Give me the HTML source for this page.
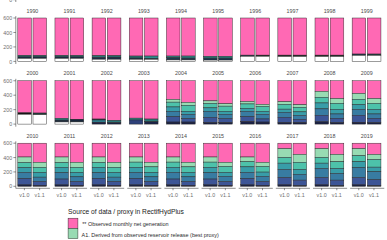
<!DOCTYPE html>
<html><head><meta charset="utf-8"><style>
html,body{margin:0;padding:0;background:#fff;width:387px;height:240px;overflow:hidden}
svg{display:block}
.bl{filter:url(#bf)}
.ax{stroke:#333;stroke-width:0.55}
.s{stroke:#262626;stroke-width:0.45}
text{font-family:'Liberation Sans',sans-serif}
.yl{font-size:5.33px;fill:#6e6e6e;text-anchor:end}
.xl{font-size:5.33px;fill:#6e6e6e;text-anchor:middle}
.st{font-size:5.33px;fill:#4a4a4a;text-anchor:middle}
.lt{font-size:6.67px;fill:#1a1a1a}
.lx{font-size:5.46px;fill:#2a2a2a}
</style></head><body>
<svg width="387" height="240" viewBox="0 0 387 240">
<defs><filter id="bf" x="-5%" y="-5%" width="110%" height="110%"><feGaussianBlur stdDeviation="0.3"/></filter></defs>
<rect width="387" height="240" fill="#fff"/>
<g class="bl"><line x1="15.8" y1="16.1" x2="15.8" y2="64" class="ax"/>
<line x1="13.4" y1="61.4" x2="15.8" y2="61.4" class="ax"/>
<line x1="13.4" y1="46.93" x2="15.8" y2="46.93" class="ax"/>
<line x1="13.4" y1="32.47" x2="15.8" y2="32.47" class="ax"/>
<line x1="13.4" y1="18" x2="15.8" y2="18" class="ax"/>
<rect x="17.8" y="18" width="13.6" height="37.45" fill="#FF69B4" class="s"/>
<rect x="17.8" y="55.45" width="13.6" height="1.5" fill="#2A7676" class="s"/>
<rect x="17.8" y="56.95" width="13.6" height="1.5" fill="#1B2D44" class="s"/>
<rect x="17.8" y="58.45" width="13.6" height="2.95" fill="#FFFFFF" class="s"/>
<rect x="33" y="18" width="13.6" height="37.45" fill="#FF69B4" class="s"/>
<rect x="33" y="55.45" width="13.6" height="1.5" fill="#2A7676" class="s"/>
<rect x="33" y="56.95" width="13.6" height="1.5" fill="#1B2D44" class="s"/>
<rect x="33" y="58.45" width="13.6" height="2.95" fill="#FFFFFF" class="s"/>
<rect x="54.95" y="18" width="13.6" height="37.45" fill="#FF69B4" class="s"/>
<rect x="54.95" y="55.45" width="13.6" height="1.5" fill="#2A7676" class="s"/>
<rect x="54.95" y="56.95" width="13.6" height="1.5" fill="#1B2D44" class="s"/>
<rect x="54.95" y="58.45" width="13.6" height="2.95" fill="#FFFFFF" class="s"/>
<rect x="70.15" y="18" width="13.6" height="37.45" fill="#FF69B4" class="s"/>
<rect x="70.15" y="55.45" width="13.6" height="1.5" fill="#2A7676" class="s"/>
<rect x="70.15" y="56.95" width="13.6" height="1.5" fill="#1B2D44" class="s"/>
<rect x="70.15" y="58.45" width="13.6" height="2.95" fill="#FFFFFF" class="s"/>
<rect x="92.1" y="18" width="13.6" height="37.65" fill="#FF69B4" class="s"/>
<rect x="92.1" y="55.65" width="13.6" height="1.8" fill="#2A7676" class="s"/>
<rect x="92.1" y="57.45" width="13.6" height="1.8" fill="#1B2D44" class="s"/>
<rect x="92.1" y="59.25" width="13.6" height="2.15" fill="#FFFFFF" class="s"/>
<rect x="107.3" y="18" width="13.6" height="37.65" fill="#FF69B4" class="s"/>
<rect x="107.3" y="55.65" width="13.6" height="1.5" fill="#2A7676" class="s"/>
<rect x="107.3" y="57.15" width="13.6" height="2.1" fill="#1B2D44" class="s"/>
<rect x="107.3" y="59.25" width="13.6" height="2.15" fill="#FFFFFF" class="s"/>
<rect x="129.25" y="18" width="13.6" height="38.05" fill="#FF69B4" class="s"/>
<rect x="129.25" y="56.05" width="13.6" height="2" fill="#2A7676" class="s"/>
<rect x="129.25" y="58.05" width="13.6" height="1.3" fill="#1B2D44" class="s"/>
<rect x="129.25" y="59.35" width="13.6" height="2.05" fill="#FFFFFF" class="s"/>
<rect x="144.45" y="18" width="13.6" height="38.05" fill="#FF69B4" class="s"/>
<rect x="144.45" y="56.05" width="13.6" height="2.3" fill="#2E8C8C" class="s"/>
<rect x="144.45" y="58.35" width="13.6" height="1" fill="#1B2D44" class="s"/>
<rect x="144.45" y="59.35" width="13.6" height="2.05" fill="#FFFFFF" class="s"/>
<rect x="166.4" y="18" width="13.6" height="38.05" fill="#FF69B4" class="s"/>
<rect x="166.4" y="56.05" width="13.6" height="1.6" fill="#2E8C8C" class="s"/>
<rect x="166.4" y="57.65" width="13.6" height="2.3" fill="#1F3A50" class="s"/>
<rect x="166.4" y="59.95" width="13.6" height="1.45" fill="#FFFFFF" class="s"/>
<rect x="181.6" y="18" width="13.6" height="38.05" fill="#FF69B4" class="s"/>
<rect x="181.6" y="56.05" width="13.6" height="2" fill="#2E8C8C" class="s"/>
<rect x="181.6" y="58.05" width="13.6" height="1.9" fill="#1F3A50" class="s"/>
<rect x="181.6" y="59.95" width="13.6" height="1.45" fill="#FFFFFF" class="s"/>
<rect x="203.55" y="18" width="13.6" height="38.35" fill="#FF69B4" class="s"/>
<rect x="203.55" y="56.35" width="13.6" height="1.7" fill="#2E8C8C" class="s"/>
<rect x="203.55" y="58.05" width="13.6" height="2.05" fill="#1F3A50" class="s"/>
<rect x="203.55" y="60.1" width="13.6" height="1.3" fill="#FFFFFF" class="s"/>
<rect x="218.75" y="18" width="13.6" height="38.35" fill="#FF69B4" class="s"/>
<rect x="218.75" y="56.35" width="13.6" height="1.7" fill="#2E8C8C" class="s"/>
<rect x="218.75" y="58.05" width="13.6" height="2.05" fill="#1F3A50" class="s"/>
<rect x="218.75" y="60.1" width="13.6" height="1.3" fill="#FFFFFF" class="s"/>
<rect x="240.7" y="18" width="13.6" height="37.15" fill="#FF69B4" class="s"/>
<rect x="240.7" y="55.15" width="13.6" height="1.2" fill="#1B2D44" class="s"/>
<rect x="240.7" y="56.35" width="13.6" height="5.05" fill="#FFFFFF" class="s"/>
<rect x="255.9" y="18" width="13.6" height="37.15" fill="#FF69B4" class="s"/>
<rect x="255.9" y="55.15" width="13.6" height="1.2" fill="#151515" class="s"/>
<rect x="255.9" y="56.35" width="13.6" height="5.05" fill="#FFFFFF" class="s"/>
<rect x="277.85" y="18" width="13.6" height="37.15" fill="#FF69B4" class="s"/>
<rect x="277.85" y="55.15" width="13.6" height="1.4" fill="#151515" class="s"/>
<rect x="277.85" y="56.55" width="13.6" height="4.85" fill="#FFFFFF" class="s"/>
<rect x="293.05" y="18" width="13.6" height="37.15" fill="#FF69B4" class="s"/>
<rect x="293.05" y="55.15" width="13.6" height="1.4" fill="#151515" class="s"/>
<rect x="293.05" y="56.55" width="13.6" height="4.85" fill="#FFFFFF" class="s"/>
<rect x="315" y="18" width="13.6" height="37.15" fill="#FF69B4" class="s"/>
<rect x="315" y="55.15" width="13.6" height="1.4" fill="#151515" class="s"/>
<rect x="315" y="56.55" width="13.6" height="4.85" fill="#FFFFFF" class="s"/>
<rect x="330.2" y="18" width="13.6" height="37.15" fill="#FF69B4" class="s"/>
<rect x="330.2" y="55.15" width="13.6" height="1.4" fill="#151515" class="s"/>
<rect x="330.2" y="56.55" width="13.6" height="4.85" fill="#FFFFFF" class="s"/>
<rect x="352.15" y="18" width="13.6" height="36.05" fill="#FF69B4" class="s"/>
<rect x="352.15" y="54.05" width="13.6" height="1.4" fill="#1B2D44" class="s"/>
<rect x="352.15" y="55.45" width="13.6" height="5.95" fill="#FFFFFF" class="s"/>
<rect x="367.35" y="18" width="13.6" height="36.05" fill="#FF69B4" class="s"/>
<rect x="367.35" y="54.05" width="13.6" height="1.4" fill="#1B3A3A" class="s"/>
<rect x="367.35" y="55.45" width="13.6" height="5.95" fill="#FFFFFF" class="s"/>
<line x1="15.8" y1="78.85" x2="15.8" y2="126.7" class="ax"/>
<line x1="13.4" y1="124.1" x2="15.8" y2="124.1" class="ax"/>
<line x1="13.4" y1="109.65" x2="15.8" y2="109.65" class="ax"/>
<line x1="13.4" y1="95.2" x2="15.8" y2="95.2" class="ax"/>
<line x1="13.4" y1="80.75" x2="15.8" y2="80.75" class="ax"/>
<rect x="17.8" y="80.75" width="13.6" height="32.1" fill="#FF69B4" class="s"/>
<rect x="17.8" y="112.85" width="13.6" height="1.5" fill="#151515" class="s"/>
<rect x="17.8" y="114.35" width="13.6" height="9.75" fill="#FFFFFF" class="s"/>
<rect x="33" y="80.75" width="13.6" height="32.3" fill="#FF69B4" class="s"/>
<rect x="33" y="113.05" width="13.6" height="1.7" fill="#1B3A3A" class="s"/>
<rect x="33" y="114.75" width="13.6" height="9.35" fill="#FFFFFF" class="s"/>
<rect x="54.95" y="80.75" width="13.6" height="37.6" fill="#FF69B4" class="s"/>
<rect x="54.95" y="118.35" width="13.6" height="1.7" fill="#2E8C8C" class="s"/>
<rect x="54.95" y="120.05" width="13.6" height="1.9" fill="#1B2D44" class="s"/>
<rect x="54.95" y="121.95" width="13.6" height="2.15" fill="#FFFFFF" class="s"/>
<rect x="70.15" y="80.75" width="13.6" height="38.5" fill="#FF69B4" class="s"/>
<rect x="70.15" y="119.25" width="13.6" height="2.7" fill="#13253A" class="s"/>
<rect x="70.15" y="121.95" width="13.6" height="2.15" fill="#FFFFFF" class="s"/>
<rect x="92.1" y="80.75" width="13.6" height="38.3" fill="#FF69B4" class="s"/>
<rect x="92.1" y="119.05" width="13.6" height="0.9" fill="#1B2D44" class="s"/>
<rect x="92.1" y="119.95" width="13.6" height="2.3" fill="#2E7C8A" class="s"/>
<rect x="92.1" y="122.25" width="13.6" height="1.85" fill="#1E2346" class="s"/>
<rect x="107.3" y="80.75" width="13.6" height="39.6" fill="#FF69B4" class="s"/>
<rect x="107.3" y="120.35" width="13.6" height="2.2" fill="#2A7676" class="s"/>
<rect x="107.3" y="122.55" width="13.6" height="1.55" fill="#1E2346" class="s"/>
<rect x="129.25" y="80.75" width="13.6" height="37.4" fill="#FF69B4" class="s"/>
<rect x="129.25" y="118.15" width="13.6" height="1.8" fill="#2E8C8C" class="s"/>
<rect x="129.25" y="119.95" width="13.6" height="4.15" fill="#2D4079" class="s"/>
<rect x="144.45" y="80.75" width="13.6" height="38.3" fill="#FF69B4" class="s"/>
<rect x="144.45" y="119.05" width="13.6" height="2.7" fill="#2A7676" class="s"/>
<rect x="144.45" y="121.75" width="13.6" height="2.35" fill="#1E2346" class="s"/>
<rect x="166.4" y="80.75" width="13.6" height="18.6" fill="#FF69B4" class="s"/>
<rect x="166.4" y="99.35" width="13.6" height="2.8" fill="#98DBB3" class="s"/>
<rect x="166.4" y="102.15" width="13.6" height="4.8" fill="#4DC2AA" class="s"/>
<rect x="166.4" y="106.95" width="13.6" height="4.3" fill="#389DA8" class="s"/>
<rect x="166.4" y="111.25" width="13.6" height="5.5" fill="#387BA2" class="s"/>
<rect x="166.4" y="116.75" width="13.6" height="5.3" fill="#3C5496" class="s"/>
<rect x="166.4" y="122.05" width="13.6" height="2.05" fill="#1E2346" class="s"/>
<rect x="181.6" y="80.75" width="13.6" height="21.6" fill="#FF69B4" class="s"/>
<rect x="181.6" y="102.35" width="13.6" height="2.9" fill="#98DBB3" class="s"/>
<rect x="181.6" y="105.25" width="13.6" height="6" fill="#4DC2AA" class="s"/>
<rect x="181.6" y="111.25" width="13.6" height="3.1" fill="#389DA8" class="s"/>
<rect x="181.6" y="114.35" width="13.6" height="4.3" fill="#387BA2" class="s"/>
<rect x="181.6" y="118.65" width="13.6" height="3.4" fill="#3C5496" class="s"/>
<rect x="181.6" y="122.05" width="13.6" height="2.05" fill="#1E2346" class="s"/>
<rect x="203.55" y="80.75" width="13.6" height="20.1" fill="#FF69B4" class="s"/>
<rect x="203.55" y="100.85" width="13.6" height="2.6" fill="#98DBB3" class="s"/>
<rect x="203.55" y="103.45" width="13.6" height="4.4" fill="#4DC2AA" class="s"/>
<rect x="203.55" y="107.85" width="13.6" height="3.4" fill="#389DA8" class="s"/>
<rect x="203.55" y="111.25" width="13.6" height="6" fill="#387BA2" class="s"/>
<rect x="203.55" y="117.25" width="13.6" height="5.2" fill="#3C5496" class="s"/>
<rect x="203.55" y="122.45" width="13.6" height="1.65" fill="#1E2346" class="s"/>
<rect x="218.75" y="80.75" width="13.6" height="23" fill="#FF69B4" class="s"/>
<rect x="218.75" y="103.75" width="13.6" height="2.4" fill="#98DBB3" class="s"/>
<rect x="218.75" y="106.15" width="13.6" height="5.1" fill="#4DC2AA" class="s"/>
<rect x="218.75" y="111.25" width="13.6" height="3" fill="#389DA8" class="s"/>
<rect x="218.75" y="114.25" width="13.6" height="4.3" fill="#387BA2" class="s"/>
<rect x="218.75" y="118.55" width="13.6" height="3.9" fill="#3C5496" class="s"/>
<rect x="218.75" y="122.45" width="13.6" height="1.65" fill="#1E2346" class="s"/>
<rect x="240.7" y="80.75" width="13.6" height="20.7" fill="#FF69B4" class="s"/>
<rect x="240.7" y="101.45" width="13.6" height="2.5" fill="#98DBB3" class="s"/>
<rect x="240.7" y="103.95" width="13.6" height="4.35" fill="#4DC2AA" class="s"/>
<rect x="240.7" y="108.3" width="13.6" height="3.05" fill="#389DA8" class="s"/>
<rect x="240.7" y="111.35" width="13.6" height="5.4" fill="#387BA2" class="s"/>
<rect x="240.7" y="116.75" width="13.6" height="4.9" fill="#3C5496" class="s"/>
<rect x="240.7" y="121.65" width="13.6" height="2.45" fill="#1E2346" class="s"/>
<rect x="255.9" y="80.75" width="13.6" height="23.6" fill="#FF69B4" class="s"/>
<rect x="255.9" y="104.35" width="13.6" height="2" fill="#98DBB3" class="s"/>
<rect x="255.9" y="106.35" width="13.6" height="5" fill="#4DC2AA" class="s"/>
<rect x="255.9" y="111.35" width="13.6" height="3" fill="#389DA8" class="s"/>
<rect x="255.9" y="114.35" width="13.6" height="4.6" fill="#387BA2" class="s"/>
<rect x="255.9" y="118.95" width="13.6" height="3.1" fill="#3C5496" class="s"/>
<rect x="255.9" y="122.05" width="13.6" height="2.05" fill="#1E2346" class="s"/>
<rect x="277.85" y="80.75" width="13.6" height="20.96" fill="#FF69B4" class="s"/>
<rect x="277.85" y="101.71" width="13.6" height="2.64" fill="#98DBB3" class="s"/>
<rect x="277.85" y="104.35" width="13.6" height="4.8" fill="#4DC2AA" class="s"/>
<rect x="277.85" y="109.15" width="13.6" height="3.1" fill="#389DA8" class="s"/>
<rect x="277.85" y="112.25" width="13.6" height="5" fill="#387BA2" class="s"/>
<rect x="277.85" y="117.25" width="13.6" height="5.5" fill="#3C5496" class="s"/>
<rect x="277.85" y="122.75" width="13.6" height="1.35" fill="#1E2346" class="s"/>
<rect x="293.05" y="80.75" width="13.6" height="24" fill="#FF69B4" class="s"/>
<rect x="293.05" y="104.75" width="13.6" height="2.5" fill="#98DBB3" class="s"/>
<rect x="293.05" y="107.25" width="13.6" height="4.6" fill="#4DC2AA" class="s"/>
<rect x="293.05" y="111.85" width="13.6" height="3.6" fill="#389DA8" class="s"/>
<rect x="293.05" y="115.45" width="13.6" height="3.8" fill="#387BA2" class="s"/>
<rect x="293.05" y="119.25" width="13.6" height="3.25" fill="#3C5496" class="s"/>
<rect x="293.05" y="122.5" width="13.6" height="1.6" fill="#1E2346" class="s"/>
<rect x="315" y="80.75" width="13.6" height="10.6" fill="#FF69B4" class="s"/>
<rect x="315" y="91.35" width="13.6" height="5.9" fill="#98DBB3" class="s"/>
<rect x="315" y="97.25" width="13.6" height="5.7" fill="#4DC2AA" class="s"/>
<rect x="315" y="102.95" width="13.6" height="5.9" fill="#389DA8" class="s"/>
<rect x="315" y="108.85" width="13.6" height="6.4" fill="#387BA2" class="s"/>
<rect x="315" y="115.25" width="13.6" height="6.6" fill="#3C5496" class="s"/>
<rect x="315" y="121.85" width="13.6" height="2.25" fill="#1E2346" class="s"/>
<rect x="330.2" y="80.75" width="13.6" height="17.8" fill="#FF69B4" class="s"/>
<rect x="330.2" y="98.55" width="13.6" height="4.8" fill="#98DBB3" class="s"/>
<rect x="330.2" y="103.35" width="13.6" height="6" fill="#4DC2AA" class="s"/>
<rect x="330.2" y="109.35" width="13.6" height="4.6" fill="#389DA8" class="s"/>
<rect x="330.2" y="113.95" width="13.6" height="4.35" fill="#387BA2" class="s"/>
<rect x="330.2" y="118.3" width="13.6" height="4.4" fill="#3C5496" class="s"/>
<rect x="330.2" y="122.7" width="13.6" height="1.4" fill="#1E2346" class="s"/>
<rect x="352.15" y="80.75" width="13.6" height="12.7" fill="#FF69B4" class="s"/>
<rect x="352.15" y="93.45" width="13.6" height="5.8" fill="#98DBB3" class="s"/>
<rect x="352.15" y="99.25" width="13.6" height="5.4" fill="#4DC2AA" class="s"/>
<rect x="352.15" y="104.65" width="13.6" height="4.7" fill="#389DA8" class="s"/>
<rect x="352.15" y="109.35" width="13.6" height="5.9" fill="#387BA2" class="s"/>
<rect x="352.15" y="115.25" width="13.6" height="7" fill="#3C5496" class="s"/>
<rect x="352.15" y="122.25" width="13.6" height="1.85" fill="#1E2346" class="s"/>
<rect x="367.35" y="80.75" width="13.6" height="17.8" fill="#FF69B4" class="s"/>
<rect x="367.35" y="98.55" width="13.6" height="4.8" fill="#98DBB3" class="s"/>
<rect x="367.35" y="103.35" width="13.6" height="6" fill="#4DC2AA" class="s"/>
<rect x="367.35" y="109.35" width="13.6" height="4.6" fill="#389DA8" class="s"/>
<rect x="367.35" y="113.95" width="13.6" height="4.35" fill="#387BA2" class="s"/>
<rect x="367.35" y="118.3" width="13.6" height="4.4" fill="#3C5496" class="s"/>
<rect x="367.35" y="122.7" width="13.6" height="1.4" fill="#1E2346" class="s"/>
<line x1="15.8" y1="141.3" x2="15.8" y2="188.3" class="ax"/>
<line x1="13.4" y1="186.3" x2="15.8" y2="186.3" class="ax"/>
<line x1="13.4" y1="171.93" x2="15.8" y2="171.93" class="ax"/>
<line x1="13.4" y1="157.57" x2="15.8" y2="157.57" class="ax"/>
<line x1="13.4" y1="143.2" x2="15.8" y2="143.2" class="ax"/>
<rect x="17.8" y="143.2" width="13.6" height="13.8" fill="#FF69B4" class="s"/>
<rect x="17.8" y="157" width="13.6" height="5.59" fill="#98DBB3" class="s"/>
<rect x="17.8" y="162.59" width="13.6" height="5.06" fill="#4DC2AA" class="s"/>
<rect x="17.8" y="167.65" width="13.6" height="4.75" fill="#389DA8" class="s"/>
<rect x="17.8" y="172.4" width="13.6" height="6.33" fill="#387BA2" class="s"/>
<rect x="17.8" y="178.73" width="13.6" height="6.18" fill="#3C5496" class="s"/>
<rect x="17.8" y="184.91" width="13.6" height="1.39" fill="#1E2346" class="s"/>
<rect x="33" y="143.2" width="13.6" height="19.05" fill="#FF69B4" class="s"/>
<rect x="33" y="162.25" width="13.6" height="5.09" fill="#98DBB3" class="s"/>
<rect x="33" y="167.34" width="13.6" height="5.06" fill="#4DC2AA" class="s"/>
<rect x="33" y="172.4" width="13.6" height="4.75" fill="#389DA8" class="s"/>
<rect x="33" y="177.15" width="13.6" height="4.43" fill="#387BA2" class="s"/>
<rect x="33" y="181.58" width="13.6" height="3.65" fill="#3C5496" class="s"/>
<rect x="33" y="185.23" width="13.6" height="1.07" fill="#1E2346" class="s"/>
<line x1="15.8" y1="188.3" x2="49.9" y2="188.3" class="ax"/>
<line x1="24.4" y1="188.3" x2="24.4" y2="190.2" class="ax"/>
<line x1="39.6" y1="188.3" x2="39.6" y2="190.2" class="ax"/>
<rect x="54.95" y="143.2" width="13.6" height="13.8" fill="#FF69B4" class="s"/>
<rect x="54.95" y="157" width="13.6" height="5.59" fill="#98DBB3" class="s"/>
<rect x="54.95" y="162.59" width="13.6" height="4.75" fill="#4DC2AA" class="s"/>
<rect x="54.95" y="167.34" width="13.6" height="5.38" fill="#389DA8" class="s"/>
<rect x="54.95" y="172.72" width="13.6" height="6.33" fill="#387BA2" class="s"/>
<rect x="54.95" y="179.05" width="13.6" height="5.86" fill="#3C5496" class="s"/>
<rect x="54.95" y="184.91" width="13.6" height="1.39" fill="#1E2346" class="s"/>
<rect x="70.15" y="143.2" width="13.6" height="19.05" fill="#FF69B4" class="s"/>
<rect x="70.15" y="162.25" width="13.6" height="5.09" fill="#98DBB3" class="s"/>
<rect x="70.15" y="167.34" width="13.6" height="5.06" fill="#4DC2AA" class="s"/>
<rect x="70.15" y="172.4" width="13.6" height="4.43" fill="#389DA8" class="s"/>
<rect x="70.15" y="176.83" width="13.6" height="4.75" fill="#387BA2" class="s"/>
<rect x="70.15" y="181.58" width="13.6" height="3.65" fill="#3C5496" class="s"/>
<rect x="70.15" y="185.23" width="13.6" height="1.07" fill="#1E2346" class="s"/>
<line x1="52.95" y1="188.3" x2="87.05" y2="188.3" class="ax"/>
<line x1="61.55" y1="188.3" x2="61.55" y2="190.2" class="ax"/>
<line x1="76.75" y1="188.3" x2="76.75" y2="190.2" class="ax"/>
<rect x="92.1" y="143.2" width="13.6" height="13.8" fill="#FF69B4" class="s"/>
<rect x="92.1" y="157" width="13.6" height="5.59" fill="#98DBB3" class="s"/>
<rect x="92.1" y="162.59" width="13.6" height="4.75" fill="#4DC2AA" class="s"/>
<rect x="92.1" y="167.34" width="13.6" height="5.38" fill="#389DA8" class="s"/>
<rect x="92.1" y="172.72" width="13.6" height="6.01" fill="#387BA2" class="s"/>
<rect x="92.1" y="178.73" width="13.6" height="6.18" fill="#3C5496" class="s"/>
<rect x="92.1" y="184.91" width="13.6" height="1.39" fill="#1E2346" class="s"/>
<rect x="107.3" y="143.2" width="13.6" height="19.05" fill="#FF69B4" class="s"/>
<rect x="107.3" y="162.25" width="13.6" height="5.09" fill="#98DBB3" class="s"/>
<rect x="107.3" y="167.34" width="13.6" height="5.06" fill="#4DC2AA" class="s"/>
<rect x="107.3" y="172.4" width="13.6" height="4.75" fill="#389DA8" class="s"/>
<rect x="107.3" y="177.15" width="13.6" height="4.43" fill="#387BA2" class="s"/>
<rect x="107.3" y="181.58" width="13.6" height="3.65" fill="#3C5496" class="s"/>
<rect x="107.3" y="185.23" width="13.6" height="1.07" fill="#1E2346" class="s"/>
<line x1="90.1" y1="188.3" x2="124.2" y2="188.3" class="ax"/>
<line x1="98.7" y1="188.3" x2="98.7" y2="190.2" class="ax"/>
<line x1="113.9" y1="188.3" x2="113.9" y2="190.2" class="ax"/>
<rect x="129.25" y="143.2" width="13.6" height="13.8" fill="#FF69B4" class="s"/>
<rect x="129.25" y="157" width="13.6" height="5.12" fill="#98DBB3" class="s"/>
<rect x="129.25" y="162.12" width="13.6" height="5.22" fill="#4DC2AA" class="s"/>
<rect x="129.25" y="167.34" width="13.6" height="5.06" fill="#389DA8" class="s"/>
<rect x="129.25" y="172.4" width="13.6" height="6.33" fill="#387BA2" class="s"/>
<rect x="129.25" y="178.73" width="13.6" height="6.18" fill="#3C5496" class="s"/>
<rect x="129.25" y="184.91" width="13.6" height="1.39" fill="#1E2346" class="s"/>
<rect x="144.45" y="143.2" width="13.6" height="19.05" fill="#FF69B4" class="s"/>
<rect x="144.45" y="162.25" width="13.6" height="4.61" fill="#98DBB3" class="s"/>
<rect x="144.45" y="166.86" width="13.6" height="5.54" fill="#4DC2AA" class="s"/>
<rect x="144.45" y="172.4" width="13.6" height="4.43" fill="#389DA8" class="s"/>
<rect x="144.45" y="176.83" width="13.6" height="4.75" fill="#387BA2" class="s"/>
<rect x="144.45" y="181.58" width="13.6" height="3.65" fill="#3C5496" class="s"/>
<rect x="144.45" y="185.23" width="13.6" height="1.07" fill="#1E2346" class="s"/>
<line x1="127.25" y1="188.3" x2="161.35" y2="188.3" class="ax"/>
<line x1="135.85" y1="188.3" x2="135.85" y2="190.2" class="ax"/>
<line x1="151.05" y1="188.3" x2="151.05" y2="190.2" class="ax"/>
<rect x="166.4" y="143.2" width="13.6" height="13.8" fill="#FF69B4" class="s"/>
<rect x="166.4" y="157" width="13.6" height="5.12" fill="#98DBB3" class="s"/>
<rect x="166.4" y="162.12" width="13.6" height="5.22" fill="#4DC2AA" class="s"/>
<rect x="166.4" y="167.34" width="13.6" height="5.06" fill="#389DA8" class="s"/>
<rect x="166.4" y="172.4" width="13.6" height="6.65" fill="#387BA2" class="s"/>
<rect x="166.4" y="179.05" width="13.6" height="5.86" fill="#3C5496" class="s"/>
<rect x="166.4" y="184.91" width="13.6" height="1.39" fill="#1E2346" class="s"/>
<rect x="181.6" y="143.2" width="13.6" height="19.05" fill="#FF69B4" class="s"/>
<rect x="181.6" y="162.25" width="13.6" height="4.61" fill="#98DBB3" class="s"/>
<rect x="181.6" y="166.86" width="13.6" height="5.54" fill="#4DC2AA" class="s"/>
<rect x="181.6" y="172.4" width="13.6" height="4.43" fill="#389DA8" class="s"/>
<rect x="181.6" y="176.83" width="13.6" height="4.75" fill="#387BA2" class="s"/>
<rect x="181.6" y="181.58" width="13.6" height="3.65" fill="#3C5496" class="s"/>
<rect x="181.6" y="185.23" width="13.6" height="1.07" fill="#1E2346" class="s"/>
<line x1="164.4" y1="188.3" x2="198.5" y2="188.3" class="ax"/>
<line x1="173" y1="188.3" x2="173" y2="190.2" class="ax"/>
<line x1="188.2" y1="188.3" x2="188.2" y2="190.2" class="ax"/>
<rect x="203.55" y="143.2" width="13.6" height="13.8" fill="#FF69B4" class="s"/>
<rect x="203.55" y="157" width="13.6" height="5.12" fill="#98DBB3" class="s"/>
<rect x="203.55" y="162.12" width="13.6" height="5.22" fill="#4DC2AA" class="s"/>
<rect x="203.55" y="167.34" width="13.6" height="5.38" fill="#389DA8" class="s"/>
<rect x="203.55" y="172.72" width="13.6" height="6.33" fill="#387BA2" class="s"/>
<rect x="203.55" y="179.05" width="13.6" height="5.86" fill="#3C5496" class="s"/>
<rect x="203.55" y="184.91" width="13.6" height="1.39" fill="#1E2346" class="s"/>
<rect x="218.75" y="143.2" width="13.6" height="19.05" fill="#FF69B4" class="s"/>
<rect x="218.75" y="162.25" width="13.6" height="4.14" fill="#98DBB3" class="s"/>
<rect x="218.75" y="166.39" width="13.6" height="6.01" fill="#4DC2AA" class="s"/>
<rect x="218.75" y="172.4" width="13.6" height="3.96" fill="#389DA8" class="s"/>
<rect x="218.75" y="176.36" width="13.6" height="5.22" fill="#387BA2" class="s"/>
<rect x="218.75" y="181.58" width="13.6" height="3.65" fill="#3C5496" class="s"/>
<rect x="218.75" y="185.23" width="13.6" height="1.07" fill="#1E2346" class="s"/>
<line x1="201.55" y1="188.3" x2="235.65" y2="188.3" class="ax"/>
<line x1="210.15" y1="188.3" x2="210.15" y2="190.2" class="ax"/>
<line x1="225.35" y1="188.3" x2="225.35" y2="190.2" class="ax"/>
<rect x="240.7" y="143.2" width="13.6" height="13.8" fill="#FF69B4" class="s"/>
<rect x="240.7" y="157" width="13.6" height="4.65" fill="#98DBB3" class="s"/>
<rect x="240.7" y="161.65" width="13.6" height="5.21" fill="#4DC2AA" class="s"/>
<rect x="240.7" y="166.86" width="13.6" height="5.54" fill="#389DA8" class="s"/>
<rect x="240.7" y="172.4" width="13.6" height="6.33" fill="#387BA2" class="s"/>
<rect x="240.7" y="178.73" width="13.6" height="6.18" fill="#3C5496" class="s"/>
<rect x="240.7" y="184.91" width="13.6" height="1.39" fill="#1E2346" class="s"/>
<rect x="255.9" y="143.2" width="13.6" height="19.05" fill="#FF69B4" class="s"/>
<rect x="255.9" y="162.25" width="13.6" height="4.14" fill="#98DBB3" class="s"/>
<rect x="255.9" y="166.39" width="13.6" height="5.7" fill="#4DC2AA" class="s"/>
<rect x="255.9" y="172.09" width="13.6" height="4.27" fill="#389DA8" class="s"/>
<rect x="255.9" y="176.36" width="13.6" height="5.22" fill="#387BA2" class="s"/>
<rect x="255.9" y="181.58" width="13.6" height="3.65" fill="#3C5496" class="s"/>
<rect x="255.9" y="185.23" width="13.6" height="1.07" fill="#1E2346" class="s"/>
<line x1="238.7" y1="188.3" x2="272.8" y2="188.3" class="ax"/>
<line x1="247.3" y1="188.3" x2="247.3" y2="190.2" class="ax"/>
<line x1="262.5" y1="188.3" x2="262.5" y2="190.2" class="ax"/>
<rect x="277.85" y="143.2" width="13.6" height="5.45" fill="#FF69B4" class="s"/>
<rect x="277.85" y="148.65" width="13.6" height="8.8" fill="#98DBB3" class="s"/>
<rect x="277.85" y="157.45" width="13.6" height="5.7" fill="#4DC2AA" class="s"/>
<rect x="277.85" y="163.15" width="13.6" height="6.3" fill="#389DA8" class="s"/>
<rect x="277.85" y="169.45" width="13.6" height="8.1" fill="#387BA2" class="s"/>
<rect x="277.85" y="177.55" width="13.6" height="7.35" fill="#3C5496" class="s"/>
<rect x="277.85" y="184.9" width="13.6" height="1.4" fill="#1E2346" class="s"/>
<rect x="293.05" y="143.2" width="13.6" height="11.15" fill="#FF69B4" class="s"/>
<rect x="293.05" y="154.35" width="13.6" height="7.9" fill="#98DBB3" class="s"/>
<rect x="293.05" y="162.25" width="13.6" height="7.2" fill="#4DC2AA" class="s"/>
<rect x="293.05" y="169.45" width="13.6" height="4.8" fill="#389DA8" class="s"/>
<rect x="293.05" y="174.25" width="13.6" height="5.9" fill="#387BA2" class="s"/>
<rect x="293.05" y="180.15" width="13.6" height="5.25" fill="#3C5496" class="s"/>
<rect x="293.05" y="185.4" width="13.6" height="0.9" fill="#1E2346" class="s"/>
<line x1="275.85" y1="188.3" x2="309.95" y2="188.3" class="ax"/>
<line x1="284.45" y1="188.3" x2="284.45" y2="190.2" class="ax"/>
<line x1="299.65" y1="188.3" x2="299.65" y2="190.2" class="ax"/>
<rect x="315" y="143.2" width="13.6" height="5.45" fill="#FF69B4" class="s"/>
<rect x="315" y="148.65" width="13.6" height="8.8" fill="#98DBB3" class="s"/>
<rect x="315" y="157.45" width="13.6" height="5.7" fill="#4DC2AA" class="s"/>
<rect x="315" y="163.15" width="13.6" height="5.4" fill="#389DA8" class="s"/>
<rect x="315" y="168.55" width="13.6" height="9" fill="#387BA2" class="s"/>
<rect x="315" y="177.55" width="13.6" height="7.35" fill="#3C5496" class="s"/>
<rect x="315" y="184.9" width="13.6" height="1.4" fill="#1E2346" class="s"/>
<rect x="330.2" y="143.2" width="13.6" height="11.15" fill="#FF69B4" class="s"/>
<rect x="330.2" y="154.35" width="13.6" height="7.4" fill="#98DBB3" class="s"/>
<rect x="330.2" y="161.75" width="13.6" height="6.8" fill="#4DC2AA" class="s"/>
<rect x="330.2" y="168.55" width="13.6" height="5" fill="#389DA8" class="s"/>
<rect x="330.2" y="173.55" width="13.6" height="6.6" fill="#387BA2" class="s"/>
<rect x="330.2" y="180.15" width="13.6" height="5.25" fill="#3C5496" class="s"/>
<rect x="330.2" y="185.4" width="13.6" height="0.9" fill="#1E2346" class="s"/>
<line x1="313" y1="188.3" x2="347.1" y2="188.3" class="ax"/>
<line x1="321.6" y1="188.3" x2="321.6" y2="190.2" class="ax"/>
<line x1="336.8" y1="188.3" x2="336.8" y2="190.2" class="ax"/>
<rect x="352.15" y="143.2" width="13.6" height="5.45" fill="#FF69B4" class="s"/>
<rect x="352.15" y="148.65" width="13.6" height="7" fill="#98DBB3" class="s"/>
<rect x="352.15" y="155.65" width="13.6" height="6.1" fill="#4DC2AA" class="s"/>
<rect x="352.15" y="161.75" width="13.6" height="5.9" fill="#389DA8" class="s"/>
<rect x="352.15" y="167.65" width="13.6" height="9.9" fill="#387BA2" class="s"/>
<rect x="352.15" y="177.55" width="13.6" height="7.35" fill="#3C5496" class="s"/>
<rect x="352.15" y="184.9" width="13.6" height="1.4" fill="#1E2346" class="s"/>
<rect x="367.35" y="143.2" width="13.6" height="11.15" fill="#FF69B4" class="s"/>
<rect x="367.35" y="154.35" width="13.6" height="5.2" fill="#98DBB3" class="s"/>
<rect x="367.35" y="159.55" width="13.6" height="7.6" fill="#4DC2AA" class="s"/>
<rect x="367.35" y="167.15" width="13.6" height="4.6" fill="#389DA8" class="s"/>
<rect x="367.35" y="171.75" width="13.6" height="7.9" fill="#387BA2" class="s"/>
<rect x="367.35" y="179.65" width="13.6" height="5.75" fill="#3C5496" class="s"/>
<rect x="367.35" y="185.4" width="13.6" height="0.9" fill="#1E2346" class="s"/>
<line x1="350.15" y1="188.3" x2="384.25" y2="188.3" class="ax"/>
<line x1="358.75" y1="188.3" x2="358.75" y2="190.2" class="ax"/>
<line x1="373.95" y1="188.3" x2="373.95" y2="190.2" class="ax"/>
<line x1="13.4" y1="-0.3" x2="15.8" y2="-0.3" class="ax"/>
<line x1="15.8" y1="-3" x2="15.8" y2="2.0" class="ax"/>
<rect x="68.1" y="218.2" width="9.8" height="10.2" fill="#FF69B4" class="s"/>
<rect x="68.1" y="228.5" width="9.8" height="10.2" fill="#98DBB3" class="s"/></g>
<text x="12.1" y="63.5" class="yl">0</text>
<text x="12.1" y="49.03" class="yl">200</text>
<text x="12.1" y="34.57" class="yl">400</text>
<text x="12.1" y="20.1" class="yl">600</text>
<text x="32.4" y="12.6" class="st">1990</text>
<text x="69.55" y="12.6" class="st">1991</text>
<text x="106.7" y="12.6" class="st">1992</text>
<text x="143.85" y="12.6" class="st">1993</text>
<text x="181" y="12.6" class="st">1994</text>
<text x="218.15" y="12.6" class="st">1995</text>
<text x="255.3" y="12.6" class="st">1996</text>
<text x="292.45" y="12.6" class="st">1997</text>
<text x="329.6" y="12.6" class="st">1998</text>
<text x="366.75" y="12.6" class="st">1999</text>
<text x="12.1" y="126.2" class="yl">0</text>
<text x="12.1" y="111.75" class="yl">200</text>
<text x="12.1" y="97.3" class="yl">400</text>
<text x="12.1" y="82.85" class="yl">600</text>
<text x="32.4" y="75.35" class="st">2000</text>
<text x="69.55" y="75.35" class="st">2001</text>
<text x="106.7" y="75.35" class="st">2002</text>
<text x="143.85" y="75.35" class="st">2003</text>
<text x="181" y="75.35" class="st">2004</text>
<text x="218.15" y="75.35" class="st">2005</text>
<text x="255.3" y="75.35" class="st">2006</text>
<text x="292.45" y="75.35" class="st">2007</text>
<text x="329.6" y="75.35" class="st">2008</text>
<text x="366.75" y="75.35" class="st">2009</text>
<text x="12.1" y="188.4" class="yl">0</text>
<text x="12.1" y="174.03" class="yl">200</text>
<text x="12.1" y="159.67" class="yl">400</text>
<text x="12.1" y="145.3" class="yl">600</text>
<text x="32.4" y="137.8" class="st">2010</text>
<text x="24.4" y="196.5" class="xl">v1.0</text>
<text x="39.6" y="196.5" class="xl">v1.1</text>
<text x="69.55" y="137.8" class="st">2011</text>
<text x="61.55" y="196.5" class="xl">v1.0</text>
<text x="76.75" y="196.5" class="xl">v1.1</text>
<text x="106.7" y="137.8" class="st">2012</text>
<text x="98.7" y="196.5" class="xl">v1.0</text>
<text x="113.9" y="196.5" class="xl">v1.1</text>
<text x="143.85" y="137.8" class="st">2013</text>
<text x="135.85" y="196.5" class="xl">v1.0</text>
<text x="151.05" y="196.5" class="xl">v1.1</text>
<text x="181" y="137.8" class="st">2014</text>
<text x="173" y="196.5" class="xl">v1.0</text>
<text x="188.2" y="196.5" class="xl">v1.1</text>
<text x="218.15" y="137.8" class="st">2015</text>
<text x="210.15" y="196.5" class="xl">v1.0</text>
<text x="225.35" y="196.5" class="xl">v1.1</text>
<text x="255.3" y="137.8" class="st">2016</text>
<text x="247.3" y="196.5" class="xl">v1.0</text>
<text x="262.5" y="196.5" class="xl">v1.1</text>
<text x="292.45" y="137.8" class="st">2017</text>
<text x="284.45" y="196.5" class="xl">v1.0</text>
<text x="299.65" y="196.5" class="xl">v1.1</text>
<text x="329.6" y="137.8" class="st">2018</text>
<text x="321.6" y="196.5" class="xl">v1.0</text>
<text x="336.8" y="196.5" class="xl">v1.1</text>
<text x="366.75" y="137.8" class="st">2019</text>
<text x="358.75" y="196.5" class="xl">v1.0</text>
<text x="373.95" y="196.5" class="xl">v1.1</text>
<text x="12.1" y="1.6" class="yl">0</text>
<text x="68.1" y="213.9" class="lt">Source of data / proxy in RectifHydPlus</text>
<text x="82.2" y="226.3" class="lx">** Observed monthly net generation</text>
<text x="81.6" y="237.0" class="lx">A1. Derived from observed reservoir release (best proxy)</text>
</svg>
</body></html>
